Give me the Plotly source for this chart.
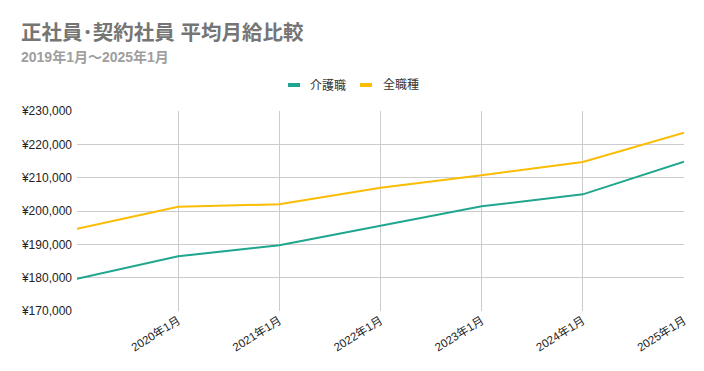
import plotly.graph_objects as go

years = [2019, 2020, 2021, 2022, 2023, 2024, 2025]
year_labels = ["2019年1月", "2020年1月", "2021年1月", "2022年1月", "2023年1月", "2024年1月", "2025年1月"]
kaigo = [179700, 186400, 189700, 195500, 201400, 205000, 214800]
zen = [194700, 201300, 202000, 207000, 210700, 214700, 223500]
series_names = ["介護職", "全職種"]
series_colors = ["#20a68f", "#fbbc04"]
y_ticks = [170000, 180000, 190000, 200000, 210000, 220000, 230000]
y_tick_labels = ["¥{:,}".format(v) for v in y_ticks]

FONT = "Arial, 'Liberation Sans', 'Noto Sans CJK JP', sans-serif"
W, H = 704, 371
L, R, T, B = 77, 20, 111, 60
PW, PH = W - L - R, H - T - B


def px(x):
    return (x - L) / PW


def py(y):
    return (H - B - y) / PH


fig = go.Figure()
for name, vals, col in zip(series_names, [kaigo, zen], series_colors):
    fig.add_trace(go.Scatter(x=years, y=vals, mode="lines", name=name,
                             line=dict(color=col, width=2), showlegend=False))

annotations = [
    dict(text="<b>正社員･契約社員 平均月給比較</b>", x=px(19), y=py(32), xref="paper", yref="paper",
         xanchor="left", yanchor="middle", showarrow=False,
         font=dict(family=FONT, size=20.5, color="#757575")),
    dict(text="<b>2019年1月～2025年1月</b>", x=px(19), y=py(57), xref="paper", yref="paper",
         xanchor="left", yanchor="middle", showarrow=False,
         font=dict(family=FONT, size=14, color="#9e9e9e")),
]
shapes = []
legend_pos = [(288, 308), (360, 381)]
for (sx, tx), name, col in zip(legend_pos, series_names, series_colors):
    shapes.append(dict(type="line", xref="paper", yref="paper", x0=px(sx), x1=px(sx + 12),
                       y0=py(85), y1=py(85), line=dict(color=col, width=4)))
    annotations.append(dict(text=name, x=px(tx), y=py(85), xref="paper", yref="paper",
                            xanchor="left", yanchor="middle", showarrow=False,
                            font=dict(family=FONT, size=12, color="#333333")))

fig.update_layout(
    width=W, height=H,
    margin=dict(l=L, r=R, t=T, b=B, autoexpand=False),
    paper_bgcolor="white", plot_bgcolor="white",
    font=dict(family=FONT, size=11, color="#333333"),
    annotations=annotations, shapes=shapes,
    showlegend=False,
)
fig.update_xaxes(range=[2019, 2025], tickvals=years[1:], ticktext=year_labels[1:],
                 tickangle=-32, showgrid=True, gridcolor="#cccccc", gridwidth=1,
                 zeroline=False, showline=False, ticks="", automargin=False,
                 tickfont=dict(size=11.5, color="#222222"))
fig.update_yaxes(range=[170000, 230000], tickvals=y_ticks, ticktext=y_tick_labels,
                 showgrid=True, gridcolor="#cccccc", gridwidth=1, zeroline=False,
                 showline=False, ticks="", ticklabelstandoff=4, automargin=False,
                 tickfont=dict(size=12, color="#222222"))

fig.write_html("out.html", config={"displayModeBar": False},
               post_script="document.body.style.margin='0';document.body.style.overflow='hidden';")
